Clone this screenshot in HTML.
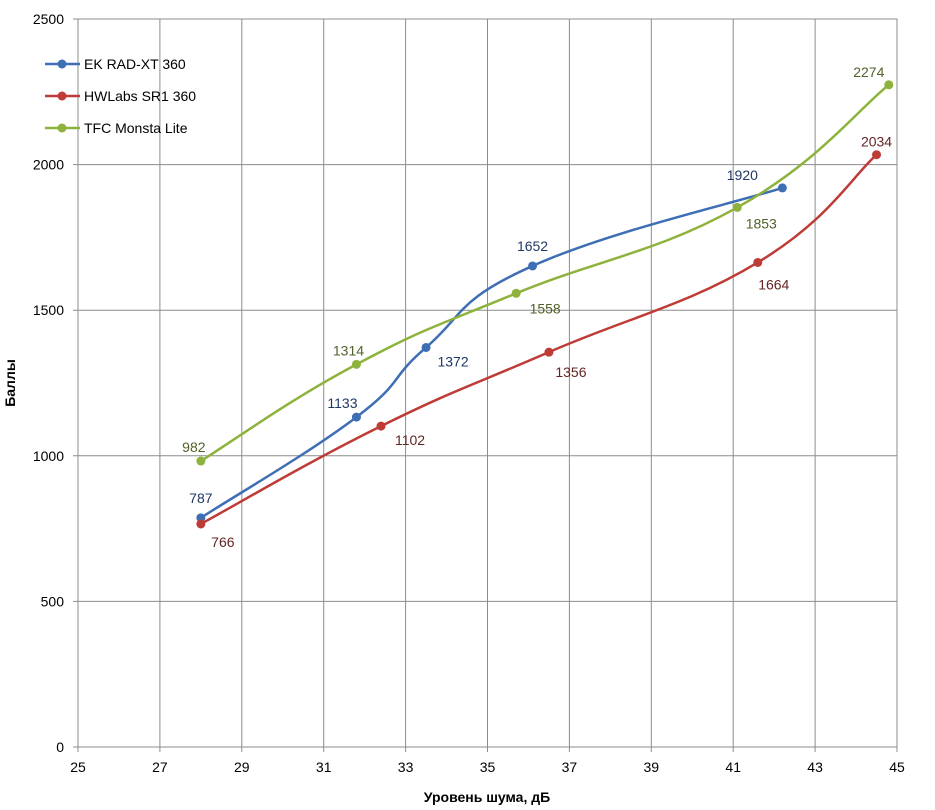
<!DOCTYPE html>
<html><head><meta charset="utf-8"><style>
body{margin:0;background:#fff;font-family:"Liberation Sans",sans-serif}
svg{display:block}
text{font-family:"Liberation Sans","Noto Sans CJK SC",sans-serif}
</style></head><body>
<svg id="c" width="935" height="810"></svg>
<script>
const xTicks=[25,27,29,31,33,35,37,39,41,43,45];
const yTicks=[0,500,1000,1500,2000,2500];
const seriesNames=["EK RAD-XT 360","HWLabs SR1 360","TFC Monsta Lite"];
const ekX=[28,31.8,33.5,36.1,42.2];
const ekY=[787,1133,1372,1652,1920];
const hwX=[28,32.4,36.5,41.6,44.5];
const hwY=[766,1102,1356,1664,2034];
const tfcX=[28,31.8,35.7,41.1,44.8];
const tfcY=[982,1314,1558,1853,2274];
const lineColors=["#3e6eb4","#be3b36","#8db33c"];
const labelColors=["#1f3864","#632523","#4f6228"];
const offs=[[[0,-20],[-14,-14],[27,14],[0,-20],[-40,-13]],
            [[22,18],[29,14],[22,20],[16,22],[0,-13]],
            [[-7,-14],[-8,-14],[29,15],[24,16],[-20,-13]]];
const L=78,R=897,T=19,B=747;
const sx=v=>L+(v-25)/20*(R-L), sy=v=>B-v/2500*(B-T);
const svg=document.getElementById('c'),NS='http://www.w3.org/2000/svg';
function mk(t,a,p){const e=document.createElementNS(NS,t);for(const k in a)e.setAttribute(k,a[k]);(p||svg).appendChild(e);return e;}
xTicks.forEach(v=>{const l=mk('line',{x1:sx(v),x2:sx(v),y1:T,y2:B+5,stroke:'#8c8c8c','stroke-width':1});


const t=mk('text',{x:sx(v),y:B+25,'text-anchor':'middle','font-size':14,fill:'#000'});t.textContent=v;

});
yTicks.forEach(v=>{const l=mk('line',{x1:L-5,x2:R,y1:sy(v),y2:sy(v),stroke:'#8c8c8c','stroke-width':1});


const t=mk('text',{x:L-14,y:sy(v)+5,'text-anchor':'end','font-size':14,fill:'#000'});t.textContent=v;

});
mk('rect',{x:L,y:T,width:R-L,height:B-T,fill:'none',stroke:'#8c8c8c'});
function path(px,py){let d=`M${px[0]},${py[0]}`;const n=px.length,k=0.5/3*2;
for(let i=0;i<n-1;i++){const p0=i?i-1:i,p3=i+2<n?i+2:i+1;
const c1x=px[i]+(px[i+1]-px[p0])*k/2*1.3,c1y=py[i]+(py[i+1]-py[p0])*k/2*1.3;
const c2x=px[i+1]-(px[p3]-px[i])*k/2*1.3,c2y=py[i+1]-(py[p3]-py[i])*k/2*1.3;
d+=` C${c1x},${c1y} ${c2x},${c2y} ${px[i+1]},${py[i+1]}`;}return d;}
[[ekX,ekY],[hwX,hwY],[tfcX,tfcY]].forEach(([xs,ys],s)=>{
const px=xs.map(sx),py=ys.map(sy);
const p=mk('path',{d:path(px,py),fill:'none',stroke:lineColors[s],'stroke-width':2.5});


xs.forEach((x,i)=>{const c=mk('circle',{cx:px[i],cy:py[i],r:4.5,fill:lineColors[s]});


const t=mk('text',{x:px[i]+offs[s][i][0],y:py[i]+offs[s][i][1]+5,'text-anchor':'middle','font-size':14,fill:labelColors[s]});t.textContent=ys[i];

});
const ly=64+s*32;
const ll=mk('line',{x1:45,x2:80,y1:ly,y2:ly,stroke:lineColors[s],'stroke-width':2.5});


mk('circle',{cx:62,cy:ly,r:4.5,fill:lineColors[s]});
const lt=mk('text',{x:84,y:ly+5,'font-size':14,fill:'#000'});lt.textContent=seriesNames[s];


});
const xt=mk('text',{x:487,y:802,'text-anchor':'middle','font-size':14,'font-weight':'bold'});xt.textContent='Уровень шума, дБ';


const yt=mk('text',{x:0,y:0,transform:'translate(15,383) rotate(-90)','text-anchor':'middle','font-size':14,'font-weight':'bold'});yt.textContent='Баллы';


</script>
</body></html>
